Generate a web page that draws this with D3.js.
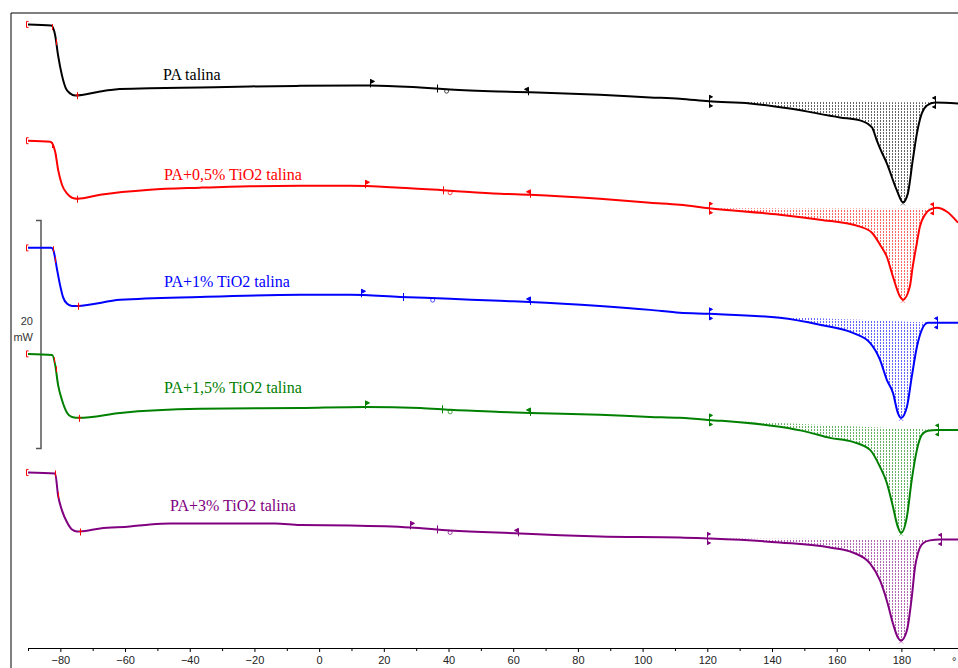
<!DOCTYPE html>
<html><head><meta charset="utf-8">
<script src="https://cdn.jsdelivr.net/npm/d3@7"></script>
<style>body{margin:0;background:#fff;overflow:hidden}svg{display:block}</style>
</head><body><svg id="c" width="958" height="668"></svg>
<script>
// ---------------- DATA ----------------
const seriesNames = ["PA talina", "PA+0,5% TiO2 talina", "PA+1% TiO2 talina", "PA+1,5% TiO2 talina", "PA+3% TiO2 talina"];
// vertical offset of each curve in mW (stacking)
const offsets = [54.7, 44.5, 35.1, 25.8, 15.4];
// heat flow (mW, relative to start) vs temperature (°C)
const paPure = [[-90,0],[-82.8,-0.09],[-81.6,-0.96],[-80.7,-2.72],[-79.5,-4.47],[-78.3,-5.61],[-77,-6.05],[-75.4,-6.23],[-67.7,-5.88],[-63.1,-5.7],[-52.3,-5.61],[-36.8,-5.53],[-21.4,-5.44],[-5.9,-5.39],[15.7,-5.35],[31.2,-5.53],[40.5,-5.7],[55.9,-5.88],[65.2,-5.96],[86.8,-6.18],[102.3,-6.4],[111.5,-6.52],[120.5,-6.75],[133.2,-6.93],[145.5,-7.37],[161,-8.16],[167.2,-8.42],[170.9,-9.04],[172.4,-10.18],[173.4,-10.88],[175.5,-12.19],[178.6,-14.56],[180.5,-15.61],[182,-14.82],[183.5,-11.93],[184.8,-9.56],[186.3,-7.81],[187.9,-7.11],[190.4,-6.84],[197.5,-6.93]];
const pa05 = [[-90,0],[-83.1,-0.09],[-81.6,-0.96],[-80.7,-2.54],[-79.5,-3.86],[-77.9,-4.65],[-76.4,-5.0],[-74.8,-5.09],[-67.7,-4.74],[-52.3,-4.3],[-36.8,-4.12],[-21.4,-3.99],[-5.9,-3.95],[9.6,-3.95],[25,-4.12],[40.5,-4.39],[55.9,-4.65],[65.2,-4.74],[86.8,-5.09],[102.3,-5.44],[111.5,-5.61],[120.5,-5.92],[142.4,-6.49],[154.8,-6.93],[167.2,-7.54],[170.9,-8.07],[173.4,-9.12],[175.5,-10.18],[177.4,-11.93],[179.6,-13.68],[180.5,-13.95],[182.6,-12.81],[183.5,-11.05],[184.8,-8.95],[185.7,-7.54],[187.3,-6.49],[188.8,-6.05],[191,-5.88],[194.1,-6.23],[197.5,-7.19]];
const pa1 = [[-90,0],[-82.8,0],[-82.2,-0.18],[-81,-1.93],[-80.1,-3.25],[-79.2,-4.3],[-77.9,-4.91],[-76.4,-5.09],[-74.8,-5.09],[-61.5,-4.56],[-36.8,-4.3],[-5.9,-4.12],[9.6,-4.12],[25,-4.3],[40.5,-4.47],[55.9,-4.65],[65.2,-4.74],[86.8,-5.09],[102.3,-5.44],[111.5,-5.7],[120.5,-5.79],[142.4,-6.14],[154.8,-6.75],[165,-7.46],[170.3,-8.33],[173.4,-9.82],[175.5,-11.58],[177.4,-12.72],[178.9,-14.47],[179.9,-14.91],[181.7,-13.95],[183.2,-11.32],[184.8,-8.68],[186.3,-7.19],[188.2,-6.58],[191,-6.58],[197.5,-6.58]];
const pa15 = [[-90,0],[-82.5,-0.09],[-81.6,-0.96],[-80.7,-2.72],[-79.5,-4.04],[-77.9,-5.18],[-76.4,-5.53],[-74.2,-5.61],[-61.5,-5.18],[-36.8,-4.82],[-5.9,-4.74],[14.2,-4.65],[31.2,-4.74],[40.5,-4.91],[55.9,-5.09],[65.2,-5.18],[86.8,-5.35],[102.3,-5.53],[111.5,-5.61],[120.5,-5.79],[142.4,-6.4],[150.8,-6.84],[157.9,-7.37],[165,-7.72],[170.3,-8.42],[173.4,-9.91],[175.5,-11.32],[177.4,-13.42],[178.9,-15.18],[179.9,-15.7],[181.7,-14.3],[183.2,-11.05],[184.8,-8.42],[186.3,-7.11],[188.2,-6.75],[191,-6.67],[197.5,-6.67]];
const pa3 = [[-90,0],[-81.6,-0.09],[-80.7,-2.02],[-79.5,-3.33],[-77.9,-4.39],[-76.4,-5.0],[-74.8,-5.18],[-73.9,-5.18],[-67.7,-4.91],[-58.5,-4.74],[-52.3,-4.56],[-46.1,-4.47],[-13.6,-4.47],[-5.9,-4.61],[9.6,-4.65],[28.1,-4.82],[40.5,-5.09],[62.1,-5.35],[74.5,-5.5],[86.8,-5.61],[111.5,-5.7],[119.9,-5.79],[142.4,-6.14],[157.9,-6.58],[165,-7.02],[170.3,-7.98],[173.4,-9.47],[175.5,-11.23],[177.4,-13.25],[178.9,-14.47],[179.9,-14.74],[181.7,-13.86],[183.2,-10.96],[184.2,-8.33],[185.1,-7.11],[186.6,-6.23],[188.8,-5.96],[191.9,-5.88],[197.5,-5.88]];
const seriesValues = [paPure, pa05, pa1, pa15, pa3];
// integration limits (°C)
const intStart = [120.5, 120.5, 120.5, 120.5, 119.9];
const intEnd = [190.4, 189.8, 191.0, 191.3, 192.2];
const peakT = [180.5, 180.5, 179.9, 179.9, 179.9];
// evaluation marks (°C)
const glassMarks = [[-90.6,-82.6,-81.3,-74.8],[-90.6,-82.6,-81.3,-74.8],[-90.6,-82.4,-81.6,-74.6],[-90.6,-82.0,-81.4,-74.2],[-90.6,-81.6,-80.7,-73.9]];
const flagT = [15.7, 14.2, 12.9, 14.2, 28.1];
const plusT = [36.3, 38.3, 25.9, 37.9, 36.4];
const circT = [39.4, 40.5, 35.1, 40.5, 40.5];
const leftT = [64.6, 65.2, 65.2, 65.2, 61.5];
// axis
const majorTicks = [-80,-60,-40,-20,0,20,40,60,80,100,120,140,160,180];
const minorTicks = [-90,-70,-50,-30,-10,10,30,50,70,90,110,130,150,170,190];
const scaleBar = {from: 17.5, size: 20, label: ["20", "mW"]};
const unitLabel = "°";

// ---------------- STYLE / LAYOUT ----------------
const colors = ["#000000", "#ff0000", "#0000ff", "#008000", "#800080"];
const labelPos = [[163,80],[164,180],[164,287],[164,393],[170,511]];

const svg = d3.select("#c");
const x = d3.scaleLinear().domain([-90, 197.5]).range([28, 958]);
const y = d3.scaleLinear().domain([0, 56]).range([648, 9.6]);

function at(pts, T) {
  if (T <= pts[0][0]) return pts[0][1];
  for (let i = 0; i < pts.length - 1; i++) {
    if (T >= pts[i][0] && T <= pts[i+1][0]) {
      const t = (T - pts[i][0]) / (pts[i+1][0] - pts[i][0]);
      return pts[i][1] + t * (pts[i+1][1] - pts[i][1]);
    }
  }
  return pts[pts.length-1][1];
}

// frame
svg.append("line").attr("x1",11).attr("y1",13).attr("x2",958).attr("y2",13).attr("stroke","#000");
svg.append("line").attr("x1",11).attr("y1",13).attr("x2",11).attr("y2",668).attr("stroke","#000");

// axis
const ax = svg.append("g").attr("transform","translate(0,648)");
ax.call(d3.axisBottom(x).tickValues(majorTicks).tickSize(4).tickSizeOuter(0).tickFormat(d3.format("d")));
ax.select(".domain").attr("d","M28,0.5H958");
ax.selectAll("text").attr("font-family","'Liberation Sans', Arial, sans-serif").attr("font-size","11px").attr("fill","#222").attr("y",8);
const axm = svg.append("g").attr("transform","translate(0,648)");
axm.call(d3.axisBottom(x).tickValues(minorTicks).tickSize(3).tickFormat(""));
axm.select(".domain").remove();
svg.append("text").attr("x",952).attr("y",665).attr("font-family","'Liberation Sans', Arial, sans-serif").attr("font-size","11px").attr("fill","#222").text(unitLabel);

// scale bar
const sb = svg.append("g").attr("stroke","#555").attr("stroke-width",1.5).attr("fill","none");
const sbTop = y(scaleBar.from + scaleBar.size), sbBot = y(scaleBar.from);
const sbMid = y(scaleBar.from + scaleBar.size/2);
sb.append("path").attr("d",`M36,${sbTop}H41V${sbBot}H36`);
svg.append("text").attr("x",33).attr("y",sbMid - 10).attr("text-anchor","end")
  .attr("font-family","'Liberation Sans', Arial, sans-serif").attr("font-size","11px").attr("fill","#333").text(scaleBar.label[0]);
svg.append("text").attr("x",33).attr("y",sbMid + 6).attr("text-anchor","end")
  .attr("font-family","'Liberation Sans', Arial, sans-serif").attr("font-size","11px").attr("fill","#333").text(scaleBar.label[1]);

// patterns
const defs = svg.append("defs");
colors.forEach((c,i) => {
  const p = defs.append("pattern").attr("id","pat"+i).attr("patternUnits","userSpaceOnUse").attr("width",3).attr("height",3);
  p.append("rect").attr("x",1).attr("y",0).attr("width",1).attr("height",2).attr("fill",c).attr("opacity",0.6);
});

const line = d3.line().x(d => x(d[0])).curve(d3.curveMonotoneX);

seriesValues.forEach((pts, i) => {
  const off = offsets[i], col = colors[i];
  const g = svg.append("g");
  // shaded peak area
  const ts = intStart[i], te = intEnd[i];
  const vs = at(pts, ts), ve = at(pts, te);
  const base = T => vs + (ve - vs) * (T - ts) / (te - ts);
  const sub = [[ts, vs]].concat(pts.filter(p => p[0] > ts && p[0] < te)).concat([[te, ve]]);
  g.append("path").datum(sub)
    .attr("d", d3.area().x(d => x(d[0])).y0(d => y(off + base(d[0]))).y1(d => y(off + d[1])).curve(d3.curveMonotoneX))
    .attr("fill", `url(#pat${i})`);
  // curve
  g.append("path").datum(pts).attr("d", line.y(d => y(off + d[1])))
    .attr("fill","none").attr("stroke",col).attr("stroke-width",2).attr("stroke-linejoin","round");

  // red glass transition marks
  const rm = g.append("g").attr("stroke","#ff0000").attr("stroke-width",1).attr("fill","none");
  glassMarks[i].forEach((T, k) => {
    const px = Math.round(x(T)) + 0.5, py = y(off + at(pts, T));
    if (k === 0) rm.append("path").attr("d",`M${px+2},${py-3}H${px}V${py+3}H${px+2}`);
    else if (k === 3) rm.append("path").attr("d",`M${px},${py-3}V${py+4}M${px-2},${py}H${px+2}`);
    else rm.append("path").attr("d",`M${px},${py-3}V${py+3}`);
  });

  // evaluation marks in series colour
  const mk = g.append("g").attr("stroke",col).attr("stroke-width",1).attr("fill","none");
  let px = Math.round(x(flagT[i])) + 0.5, py = y(off + at(pts, flagT[i]));
  mk.append("path").attr("d",`M${px},${py-6}V${py+2}`);
  mk.append("path").attr("d",`M${px},${py-6}L${px+4},${py-4}L${px},${py-2}Z`).attr("fill",col);
  px = Math.round(x(plusT[i])) + 0.5; py = y(off + at(pts, plusT[i]));
  mk.append("path").attr("d",`M${px},${py-4}V${py+4}`);
  px = x(circT[i]); py = y(off + at(pts, circT[i]));
  mk.append("circle").attr("cx",px).attr("cy",py+2).attr("r",2).attr("stroke-opacity",0.7);
  px = Math.round(x(leftT[i])) + 0.5; py = y(off + at(pts, leftT[i]));
  mk.append("path").attr("d",`M${px},${py-4}V${py+3}`);
  mk.append("path").attr("d",`M${px},${py-5}L${px-4},${py-3}L${px},${py-1}Z`).attr("fill",col);
  // integration limits
  [[ts,1],[te,-1]].forEach(([T,dir]) => {
    const qx = Math.round(x(T)) + 0.5, qy = y(off + at(pts, T));
    mk.append("path").attr("d",`M${qx},${qy-6}V${qy+6}`);
    mk.append("path").attr("d",`M${qx},${qy-6}L${qx+3*dir},${qy-4.5}L${qx},${qy-3}Z`).attr("fill",col);
    mk.append("path").attr("d",`M${qx},${qy+3}L${qx+3*dir},${qy+4.5}L${qx},${qy+6}Z`).attr("fill",col);
  });
  // peak mark
  px = x(peakT[i]); py = y(off + at(pts, peakT[i]));
  mk.append("path").attr("d",`M${px-2},${py-1}L${px+2},${py+3}M${px+2},${py-1}L${px-2},${py+3}`).attr("stroke-opacity",0.5);

  // label
  svg.append("text").attr("x",labelPos[i][0]).attr("y",labelPos[i][1])
    .attr("font-family","'Liberation Serif', 'Times New Roman', serif").attr("font-size","16px")
    .attr("fill",col).text(seriesNames[i]);
});
</script>
</body></html>
